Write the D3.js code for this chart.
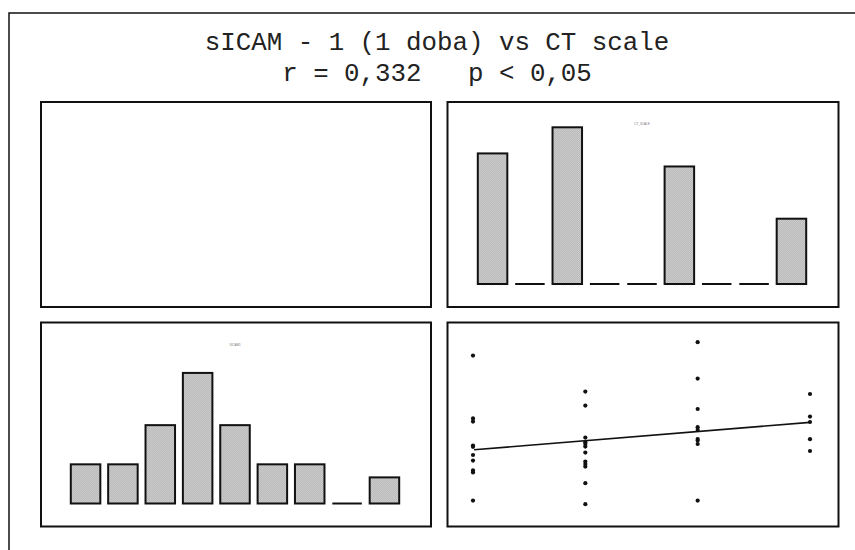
<!DOCTYPE html>
<html>
<head>
<meta charset="utf-8">
<script src="https://cdn.jsdelivr.net/npm/d3@7.9.0/dist/d3.min.js"></script>
<style>
  html, body { margin: 0; padding: 0; background: #fff; }
  svg { display: block; }
</style>
</head>
<body>
<div id="chart"></div>
<script>
// title lines
const titleLines = ['sICAM - 1 (1 doba) vs CT scale', 'r = 0,332   p < 0,05'];

// histogram of CT scale (9 bins, counts)
const ctBins = [1, 2, 3, 4, 5, 6, 7, 8, 9];
const ctCounts = [10, 0, 12, 0, 0, 9, 0, 0, 5];

// histogram of sICAM-1 (9 bins, counts)
const sicamBins = [1, 2, 3, 4, 5, 6, 7, 8, 9];
const sicamCounts = [3, 3, 6, 10, 6, 3, 3, 0, 2];

// scatter: CT scale (x) vs sICAM-1 (y), grouped by CT value
const ctValues = [1, 2, 3, 4];
const sicamByCt = [
  [822, 508, 492, 372, 366, 325, 297, 248, 238, 97],
  [642, 572, 412, 389, 380, 367, 337, 292, 280, 267, 184, 79],
  [889, 707, 555, 464, 450, 405, 397, 380, 97],
  [630, 517, 490, 404, 345],
];

const width = 855;
const height = 550;

const svg = d3.select('#chart')
  .append('svg')
  .attr('width', width)
  .attr('height', height);

// fine diagonal hatch used by the histogram bars
const defs = svg.append('defs');
const pat = defs.append('pattern')
  .attr('id', 'hatch')
  .attr('patternUnits', 'userSpaceOnUse')
  .attr('width', 2)
  .attr('height', 2);
pat.append('rect').attr('width', 2).attr('height', 2).attr('fill', '#cbcbcb');
pat.append('path')
  .attr('d', 'M0,2 L2,0 M-1,1 L1,-1 M1,3 L3,1')
  .attr('stroke', '#a9a9a9')
  .attr('stroke-width', 0.5);

// outer frame
svg.append('rect')
  .attr('x', 9).attr('y', 13)
  .attr('width', 900).attr('height', 600)
  .attr('fill', 'none')
  .attr('stroke', '#111')
  .attr('stroke-width', 1.5);

svg.append('g')
  .selectAll('text')
  .data(titleLines)
  .join('text')
  .attr('x', 437)
  .attr('y', (d, i) => 50 + i * 31)
  .attr('text-anchor', 'middle')
  .attr('font-family', '"Liberation Mono", "Courier New", monospace')
  .attr('font-size', 25.8)
  .attr('fill', '#222')
  .style('white-space', 'pre')
  .text((d) => d);

const panels = [
  { x: 41, y: 102, w: 390, h: 205 },
  { x: 447.5, y: 102, w: 391, h: 205 },
  { x: 41, y: 322.5, w: 390, h: 204 },
  { x: 447.5, y: 322.5, w: 391, h: 204 },
];

svg.append('g')
  .selectAll('rect')
  .data(panels)
  .join('rect')
  .attr('x', (d) => d.x)
  .attr('y', (d) => d.y)
  .attr('width', (d) => d.w)
  .attr('height', (d) => d.h)
  .attr('fill', '#fff')
  .attr('stroke', '#111')
  .attr('stroke-width', 2);

function histogram(bins, counts, panel, label) {
  const cx = panel.x + panel.w / 2 - 1;
  const base = panel.y + panel.h - 23;
  const x = d3.scaleBand()
    .domain(bins)
    .range([cx - 164.2, cx + 164.2])
    .paddingInner(0.21)
    .paddingOuter(0);
  const y = d3.scaleLinear().domain([0, 12]).range([base, base - 156.7]);

  const g = svg.append('g');
  const rows = bins.map((b, i) => ({ bin: b, count: counts[i] }));

  g.selectAll('rect')
    .data(rows.filter((d) => d.count > 0))
    .join('rect')
    .attr('x', (d) => x(d.bin))
    .attr('y', (d) => y(d.count))
    .attr('width', x.bandwidth())
    .attr('height', (d) => y(0) - y(d.count))
    .attr('fill', 'url(#hatch)')
    .attr('stroke', '#111')
    .attr('stroke-width', 2);

  // empty bins are drawn as a flat line on the base
  g.selectAll('line')
    .data(rows.filter((d) => d.count === 0))
    .join('line')
    .attr('x1', (d) => x(d.bin))
    .attr('x2', (d) => x(d.bin) + x.bandwidth())
    .attr('y1', y(0))
    .attr('y2', y(0))
    .attr('stroke', '#111')
    .attr('stroke-width', 2);

  g.append('text')
    .attr('x', cx)
    .attr('y', panel.y + 23)
    .attr('text-anchor', 'middle')
    .attr('font-family', '"Liberation Sans", Arial, sans-serif')
    .attr('font-size', 3)
    .attr('fill', '#777')
    .text(label);
}

histogram(ctBins, ctCounts, panels[1], 'CT_SCALE');
histogram(sicamBins, sicamCounts, panels[2], 'SICAM1');

// scatter plot with least-squares line
const xs = d3.scaleLinear().domain([1, 4]).range([473, 810]);
const ys = d3.scaleLinear().domain([0, 1000]).range([520, 320]);

const points = ctValues.flatMap((ct, i) => sicamByCt[i].map((v) => ({ ct, v })));

const mx = d3.mean(points, (d) => d.ct);
const my = d3.mean(points, (d) => d.v);
const slope = d3.sum(points, (d) => (d.ct - mx) * (d.v - my)) /
  d3.sum(points, (d) => (d.ct - mx) ** 2);
const intercept = my - slope * mx;

svg.append('g')
  .selectAll('circle')
  .data(points)
  .join('circle')
  .attr('cx', (d) => xs(d.ct))
  .attr('cy', (d) => ys(d.v))
  .attr('r', 2.1)
  .attr('fill', '#111');

const ext = d3.extent(ctValues);
svg.append('line')
  .attr('x1', xs(ext[0]) + 1)
  .attr('y1', ys(intercept + slope * ext[0]))
  .attr('x2', xs(ext[1]))
  .attr('y2', ys(intercept + slope * ext[1]))
  .attr('stroke', '#111')
  .attr('stroke-width', 1.6);
</script>
</body>
</html>
